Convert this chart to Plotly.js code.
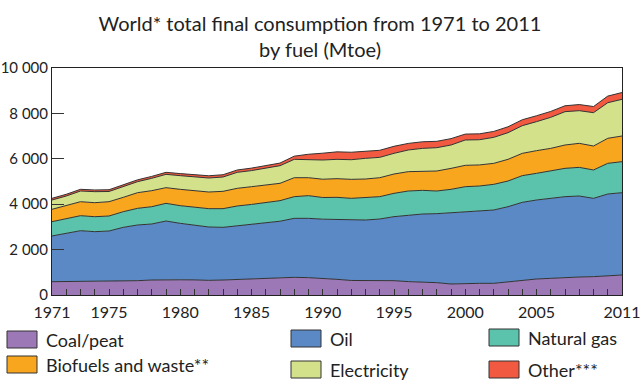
<!DOCTYPE html>
<html>
<head>
<meta charset="utf-8">
<script src="https://cdn.plot.ly/plotly-3.0.1.min.js"></script>
<style>
  html, body { margin: 0; padding: 0; background: #fff; }
  #chart { width: 640px; height: 390px; }
</style>
</head>
<body>
<div id="chart"></div>
<script>
// ---- data (Mtoe) ----
const years = [];
for (let y = 1971; y <= 2011; y++) years.push(y);

const coal = [586,590,600,595,590,605,631,661,675,670,665,646,661,690,720,730,749,778,764,734,690,640,646,646,631,590,580,543,485,514,514,514,587,660,705,734,778,793,808,837,881];
const oil = [2014,2127,2233,2195,2229,2376,2453,2467,2585,2487,2404,2350,2320,2364,2400,2450,2501,2599,2613,2606,2643,2664,2658,2702,2820,2920,2988,3040,3142,3157,3186,3230,3303,3422,3480,3524,3554,3568,3450,3612,3626];
const gas = [630,660,661,660,661,689,734,762,778,778,808,807,822,867,870,880,906,955,999,955,969,954,984,984,1028,1071,1042,998,1028,1100,1102,1131,1132,1175,1175,1204,1248,1262,1249,1351,1366];
const biofuels = [545,558,616,616,630,632,689,706,690,720,719,734,764,779,782,780,764,836,792,805,823,837,822,836,851,852,852,881,924,941,928,925,954,983,998,998,1028,1058,1057,1102,1131];
const electricity = [410,426,471,486,450,470,485,544,588,602,617,617,631,704,708,740,777,808,792,847,851,865,910,896,911,955,998,1028,1029,1116,1110,1146,1174,1220,1278,1367,1468,1439,1468,1570,1616];
const other = [75,75,75,75,78,78,80,85,88,92,95,98,100,103,110,112,115,140,240,300,330,330,320,310,310,290,290,280,280,260,260,260,260,260,260,260,260,270,270,290,300];

const seriesNames = ['Coal/peat','Oil','Natural gas','Biofuels and waste**','Electricity','Other***'];
const seriesColors = ['#9c78b6','#5b89c6','#5bc3ab','#f8a61e','#d4e18b','#f15a40'];
const seriesValues = [coal, oil, gas, biofuels, electricity, other];

const xTickVals = [1971,1975,1980,1985,1990,1995,2000,2005,2011];
const yTickVals = [0,2000,4000,6000,8000,10000];
const yTickText = ['0','2 000','4 000','6 000','8 000','10 000'];

const FONT = 'Lato, "DejaVu Sans", sans-serif';

const traces = seriesValues.map((vals, i) => ({
  type: 'scatter',
  mode: 'lines',
  x: years,
  y: vals,
  name: seriesNames[i],
  stackgroup: 'one',
  fillcolor: seriesColors[i],
  line: { color: '#333333', width: 1 },
  showlegend: false,
  hoverinfo: 'x+y+name'
}));

// custom legend: 3 columns x 2 rows (order as in reference)
const PL = 52, PR = 622, PT = 68, PB = 295;
const legendCols = [7, 291, 489];      // swatch left, px
const legendRowsY = [[331, 356], [330, 361], [329, 361]]; // swatch top per column
const legendOrder = [[0, 3], [1, 4], [2, 5]];
const shapes = [];
const annotations = [];
const W = 640, H = 390;
const px2x = p => (p - PL) / (PR - PL);
const px2y = p => (PB - p) / (PB - PT);
legendOrder.forEach((col, c) => {
  col.forEach((si, r) => {
    const x0 = legendCols[c], y0 = legendRowsY[c][r];
    shapes.push({
      type: 'rect', xref: 'paper', yref: 'paper',
      x0: px2x(x0), x1: px2x(x0 + 30),
      y0: px2y(y0), y1: px2y(y0 + 17),
      fillcolor: seriesColors[si], line: { color: '#333333', width: 1 }
    });
    annotations.push({
      xref: 'paper', yref: 'paper', showarrow: false,
      x: px2x(x0 + 37), y: px2y(y0 + 9),
      xanchor: 'left', yanchor: 'middle',
      text: seriesNames[si],
      font: { family: FONT, size: 18, color: '#222222' }
    });
  });
});

const layout = {
  width: W, height: H,
  margin: { l: PL, r: W - PR, t: PT, b: H - PB, pad: 0 },
  paper_bgcolor: '#ffffff',
  plot_bgcolor: '#ffffff',
  title: {
    text: 'World* total final consumption from 1971 to 2011<br>by fuel (Mtoe)',
    x: 0.5, xanchor: 'center',
    yref: 'container', y: 1 - 31 / H, yanchor: 'middle',
    font: { family: FONT, size: 20, color: '#222222' }
  },
  xaxis: {
    range: [1971, 2011],
    tickmode: 'array', tickvals: xTickVals,
    ticks: 'inside', ticklen: 6, tickcolor: '#333', tickwidth: 1,
    minor: { tick0: 1971, dtick: 1, ticks: 'inside', ticklen: 6, tickcolor: '#333', tickwidth: 1 },
    showgrid: false, zeroline: false,
    showline: true, linecolor: '#222', linewidth: 1, mirror: true,
    ticklabelstandoff: 3,
    ticklabeloverflow: 'allow',
    tickfont: { family: FONT, size: 16, color: '#222' }
  },
  yaxis: {
    range: [0, 10000],
    tickmode: 'array', tickvals: yTickVals, ticktext: yTickText,
    ticks: 'inside', ticklen: 12, tickcolor: '#333', tickwidth: 1,
    showgrid: false, zeroline: false,
    showline: true, linecolor: '#222', linewidth: 1, mirror: true,
    ticklabelstandoff: 0,
    tickfont: { family: FONT, size: 15, color: '#222' }
  },
  shapes: shapes,
  annotations: annotations,
  showlegend: false
};

Plotly.newPlot('chart', traces, layout, { staticPlot: true, displayModeBar: false });
</script>
</body>
</html>
